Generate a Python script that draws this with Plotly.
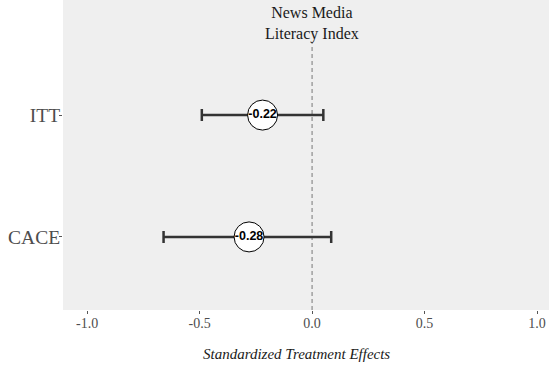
import plotly.graph_objects as go

categories = ["ITT", "CACE"]
estimates = [-0.22, -0.28]
ci_low = [-0.49, -0.66]
ci_high = [0.05, 0.085]
labels = ["-0.22", "-0.28"]
x_ticks = [-1.0, -0.5, 0.0, 0.5, 1.0]
x_tick_labels = ["-1.0", "-0.5", "0.0", "0.5", "1.0"]

ypos = {"CACE": 1, "ITT": 2}
yvals = [ypos[c] for c in categories]

fig = go.Figure()
fig.add_trace(go.Scatter(
    x=estimates, y=yvals,
    mode="markers+text",
    text=labels,
    textposition="middle center",
    textfont=dict(family="Liberation Sans", size=12.5, color="black", weight="bold"),
    marker=dict(size=30, color="white", line=dict(color="black", width=1)),
    error_x=dict(type="data", symmetric=False,
                 array=[h - e for h, e in zip(ci_high, estimates)],
                 arrayminus=[e - l for e, l in zip(estimates, ci_low)],
                 color="#333333", thickness=2.5, width=6),
    showlegend=False, cliponaxis=False,
))

BG = "#efefef"
PH = 268
fig.update_layout(
    width=549, height=367,
    margin=dict(l=63, r=0, t=42, b=57),
    paper_bgcolor="white", plot_bgcolor=BG,
    font=dict(family="Liberation Serif", color="#4d4d4d"),
    xaxis=dict(range=[-1.107, 1.053], tickvals=x_ticks, ticktext=x_tick_labels,
               showgrid=False, zeroline=False, ticks="outside", ticklen=3,
               tickcolor="#555555", tickfont=dict(size=14, color="#4d4d4d"),
               ticklabelstandoff=-3),
    yaxis=dict(range=[0.4, 2.6], tickvals=[ypos[c] for c in categories],
               ticktext=categories, showgrid=False, zeroline=False,
               ticks="outside", ticklen=3, tickcolor="#555555",
               tickfont=dict(size=19.5, color="#4d4d4d"),
               ticklabelstandoff=-5),
    shapes=[
        dict(type="rect", xref="paper", yref="paper", x0=0, x1=1, y0=1, y1=1 + 42 / PH,
             fillcolor=BG, line=dict(width=0), layer="below"),
        dict(type="line", xref="x", yref="paper", x0=0, x1=0, y0=0, y1=1,
             line=dict(color="#444444", width=0.7, dash="4px,3px"), layer="below"),
    ],
    annotations=[
        dict(text="News Media<br>Literacy Index", xref="paper", yref="paper",
             x=(312 - 63) / 486, y=1 + (42 - 23) / PH, showarrow=False, yanchor="middle",
             font=dict(size=16, color="#1a1a1a", family="Liberation Serif")),
        dict(text="Standardized Treatment Effects", xref="paper", yref="paper",
             x=(296 - 63) / 486, y=-(354 - 310) / PH, showarrow=False, yanchor="middle",
             font=dict(size=15, color="#1a1a1a", family="Liberation Serif", style="italic")),
    ],
)

fig.write_html("out.html")
